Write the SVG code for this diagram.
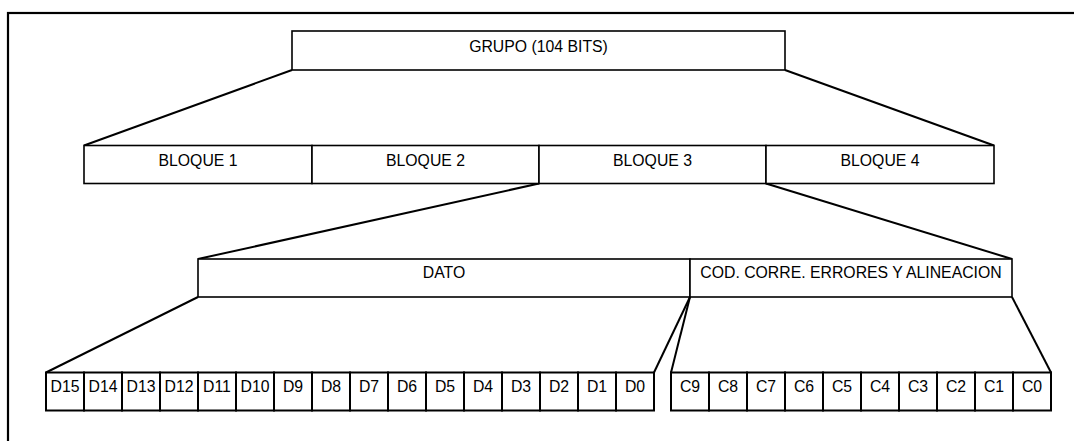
<svg xmlns="http://www.w3.org/2000/svg" width="1074" height="441" viewBox="0 0 1074 441">
<style>
.box{fill:#fff;stroke:#000;stroke-width:1.6}
.cell{fill:#fff;stroke:#000;stroke-width:2}
.ln{stroke:#000;stroke-width:2;fill:none}
text{font-family:"Liberation Sans",Arial,sans-serif;font-size:15.8px;fill:#000;text-anchor:middle}
</style>
<rect x="0" y="0" width="1074" height="441" fill="#fff"/>
<rect id="frame" x="8" y="13" width="1200" height="600" fill="none" stroke="#000" stroke-width="2.2"/>
<g id="connectors">
<line class="ln" x1="292" y1="70" x2="84" y2="145.5"/>
<line class="ln" x1="785" y1="70" x2="994" y2="145.5"/>
<line class="ln" x1="539" y1="183.5" x2="198" y2="259"/>
<line class="ln" x1="766" y1="183.5" x2="1012" y2="259"/>
<line class="ln" x1="198" y1="297" x2="46" y2="372.5"/>
<line class="ln" x1="690" y1="297" x2="654" y2="372.5"/>
<line class="ln" x1="690" y1="297" x2="671" y2="372.5"/>
<line class="ln" x1="1012" y1="297" x2="1051" y2="372.5"/>
</g>
<g id="grupo"><rect class="box" x="292" y="31" width="493" height="39"/><text x="538.5" y="52">GRUPO (104 BITS)</text></g>
<g id="bloque1"><rect class="box" x="84" y="145.5" width="228" height="38"/><text x="198" y="165.5">BLOQUE 1</text></g>
<g id="bloque2"><rect class="box" x="312" y="145.5" width="227" height="38"/><text x="425.5" y="165.5">BLOQUE 2</text></g>
<g id="bloque3"><rect class="box" x="539" y="145.5" width="227" height="38"/><text x="652.5" y="165.5">BLOQUE 3</text></g>
<g id="bloque4"><rect class="box" x="766" y="145.5" width="228" height="38"/><text x="880" y="165.5">BLOQUE 4</text></g>
<g id="dato"><rect class="box" x="198" y="259" width="492" height="38"/><text x="444" y="278.3">DATO</text></g>
<g id="cod"><rect class="box" x="690" y="259" width="322" height="38"/><text x="851" y="277.8">COD. CORRE. ERRORES Y ALINEACION</text></g>
<g id="d15"><rect class="cell" x="46" y="372.5" width="38" height="38"/><text x="65" y="392.3">D15</text></g>
<g id="d14"><rect class="cell" x="84" y="372.5" width="38" height="38"/><text x="103" y="392.3">D14</text></g>
<g id="d13"><rect class="cell" x="122" y="372.5" width="38" height="38"/><text x="141" y="392.3">D13</text></g>
<g id="d12"><rect class="cell" x="160" y="372.5" width="38" height="38"/><text x="179" y="392.3">D12</text></g>
<g id="d11"><rect class="cell" x="198" y="372.5" width="38" height="38"/><text x="217" y="392.3">D11</text></g>
<g id="d10"><rect class="cell" x="236" y="372.5" width="38" height="38"/><text x="255" y="392.3">D10</text></g>
<g id="d9"><rect class="cell" x="274" y="372.5" width="38" height="38"/><text x="293" y="392.3">D9</text></g>
<g id="d8"><rect class="cell" x="312" y="372.5" width="38" height="38"/><text x="331" y="392.3">D8</text></g>
<g id="d7"><rect class="cell" x="350" y="372.5" width="38" height="38"/><text x="369" y="392.3">D7</text></g>
<g id="d6"><rect class="cell" x="388" y="372.5" width="38" height="38"/><text x="407" y="392.3">D6</text></g>
<g id="d5"><rect class="cell" x="426" y="372.5" width="38" height="38"/><text x="445" y="392.3">D5</text></g>
<g id="d4"><rect class="cell" x="464" y="372.5" width="38" height="38"/><text x="483" y="392.3">D4</text></g>
<g id="d3"><rect class="cell" x="502" y="372.5" width="38" height="38"/><text x="521" y="392.3">D3</text></g>
<g id="d2"><rect class="cell" x="540" y="372.5" width="38" height="38"/><text x="559" y="392.3">D2</text></g>
<g id="d1"><rect class="cell" x="578" y="372.5" width="38" height="38"/><text x="597" y="392.3">D1</text></g>
<g id="d0"><rect class="cell" x="616" y="372.5" width="38" height="38"/><text x="635" y="392.3">D0</text></g>
<g id="c9"><rect class="cell" x="671" y="372.5" width="38" height="38"/><text x="690" y="392.3">C9</text></g>
<g id="c8"><rect class="cell" x="709" y="372.5" width="38" height="38"/><text x="728" y="392.3">C8</text></g>
<g id="c7"><rect class="cell" x="747" y="372.5" width="38" height="38"/><text x="766" y="392.3">C7</text></g>
<g id="c6"><rect class="cell" x="785" y="372.5" width="38" height="38"/><text x="804" y="392.3">C6</text></g>
<g id="c5"><rect class="cell" x="823" y="372.5" width="38" height="38"/><text x="842" y="392.3">C5</text></g>
<g id="c4"><rect class="cell" x="861" y="372.5" width="38" height="38"/><text x="880" y="392.3">C4</text></g>
<g id="c3"><rect class="cell" x="899" y="372.5" width="38" height="38"/><text x="918" y="392.3">C3</text></g>
<g id="c2"><rect class="cell" x="937" y="372.5" width="38" height="38"/><text x="956" y="392.3">C2</text></g>
<g id="c1"><rect class="cell" x="975" y="372.5" width="38" height="38"/><text x="994" y="392.3">C1</text></g>
<g id="c0"><rect class="cell" x="1013" y="372.5" width="38" height="38"/><text x="1032" y="392.3">C0</text></g>
</svg>
